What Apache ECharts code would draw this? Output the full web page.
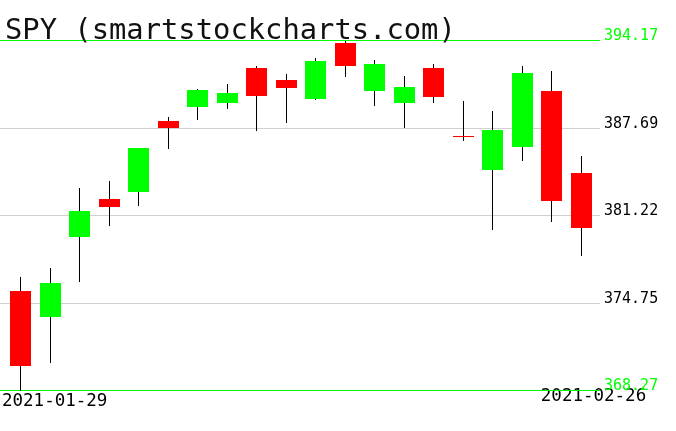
<!DOCTYPE html>
<html><head><meta charset="utf-8">
<script src="https://cdn.jsdelivr.net/npm/echarts@6/dist/echarts.min.js"></script>
<style>html,body{margin:0;padding:0;background:#fff}#c{width:676px;height:431px}</style>
</head><body><div id="c"></div>
<script>
const chartTitle = 'SPY (smartstockcharts.com)';
const dates = ['2021-01-29','2021-02-01','2021-02-02','2021-02-03','2021-02-04','2021-02-05','2021-02-08','2021-02-09','2021-02-10','2021-02-11','2021-02-12','2021-02-16','2021-02-17','2021-02-18','2021-02-19','2021-02-22','2021-02-23','2021-02-24','2021-02-25','2021-02-26'];
const opens  = [375.63, 373.72, 379.65, 382.44, 382.96, 388.20, 389.27, 389.58, 392.12, 391.24, 389.85, 393.96, 390.40, 389.57, 392.10, 387.11, 384.60, 386.30, 390.42, 384.35];
const closes = [370.05, 376.25, 381.55, 381.85, 386.20, 387.71, 390.54, 390.26, 390.08, 390.68, 392.64, 392.29, 392.42, 390.71, 390.02, 387.07, 387.54, 391.80, 382.31, 380.32];
const highs  = [376.70, 377.36, 383.22, 383.74, 386.25, 388.50, 390.57, 390.92, 392.26, 391.68, 392.91, 394.17, 392.70, 391.53, 392.40, 389.66, 388.95, 392.25, 391.90, 385.60];
const lows   = [368.27, 370.33, 376.31, 380.46, 381.95, 386.15, 388.30, 389.12, 387.51, 388.07, 389.77, 391.48, 389.33, 387.70, 389.55, 386.74, 380.16, 385.27, 380.74, 378.23];
const priceTicks = ['368.27', '374.75', '381.22', '387.69', '394.17'];
const dateTicks = ['2021-01-29', '2021-02-26'];

const FONT = 'DejaVu Sans Mono';
const yMin = parseFloat(priceTicks[0]);
const yMax = parseFloat(priceTicks[priceTicks.length - 1]);
const xMin = -0.6955, xMax = 19.661;

const candleData = dates.map((d, i) => [i, opens[i], closes[i], lows[i], highs[i]]);

function renderItem(params, api) {
  const i = api.value(0);
  const o = api.value(1), c = api.value(2), l = api.value(3), h = api.value(4);
  const pO = api.coord([i, o]), pC = api.coord([i, c]);
  const pL = api.coord([i, l]), pH = api.coord([i, h]);
  const bw = Math.round(api.size([1, 0])[0] * 0.72);
  const x = Math.round(pO[0]);
  const top = Math.min(pO[1], pC[1]), bot = Math.max(pO[1], pC[1]);
  const color = c >= o ? '#00ff00' : '#ff0000';
  return {
    type: 'group',
    children: [
      { type: 'line', shape: { x1: x + 0.5, y1: Math.round(pH[1]), x2: x + 0.5, y2: Math.round(pL[1]) },
        style: { stroke: '#000', lineWidth: 1 } },
      { type: 'rect', shape: { x: x - Math.floor(bw / 2), y: Math.round(top), width: bw, height: Math.max(Math.round(bot) - Math.round(top), 1) },
        style: { fill: color } }
    ]
  };
}

const lastIdx = priceTicks.length - 1;
const markData = priceTicks.map((t, i) => {
  const edge = (i === 0 || i === lastIdx);
  return {
    yAxis: parseFloat(t),
    lineStyle: { color: edge ? '#00ff00' : '#d0d0d0', width: 1, type: 'solid' },
    label: { formatter: t, color: edge ? '#00ff00' : '#000' }
  };
});

const chart = echarts.init(document.getElementById('c'));
chart.setOption({
  animation: false,
  backgroundColor: '#fff',
  title: {
    text: chartTitle, left: 0, top: 12,
    textStyle: { fontFamily: FONT, fontSize: 28.8, fontWeight: 'normal', color: '#111' }
  },
  grid: { left: 0, top: 40.5, width: 600, height: 350, outerBoundsMode: 'none', containLabel: false },
  xAxis: {
    type: 'value', min: xMin, max: xMax,
    axisLine: { show: false }, axisTick: { show: false }, splitLine: { show: false },
    axisLabel: {
      customValues: [xMin, xMax],
      formatter: v => (v < 5 ? '{a|' + dateTicks[0] + '}' : '{b|' + dateTicks[1] + '}'),
      margin: 2,
      alignMinLabel: 'left', alignMaxLabel: 'center',
      rich: {
        a: { fontFamily: FONT, fontSize: 17.5, color: '#000', padding: [0, 0, 0, 2] },
        b: { fontFamily: FONT, fontSize: 17.5, color: '#000', lineHeight: 8, padding: [0, 13, 0, 0] }
      }
    }
  },
  yAxis: { type: 'value', min: yMin, max: yMax, show: false },
  series: [
    {
      type: 'line', data: [], silent: true, clip: false,
      markLine: {
        silent: true, symbol: 'none', animation: false,
        label: { position: 'end', distance: 4, fontFamily: FONT, fontSize: 15, lineHeight: 8, verticalAlign: 'bottom', align: 'left' },
        data: markData
      }
    },
    {
      type: 'custom', renderItem: renderItem, data: candleData, clip: false,
      encode: { x: 0, y: [1, 2, 3, 4] }, z: 5
    }
  ]
});
</script>
</body></html>
